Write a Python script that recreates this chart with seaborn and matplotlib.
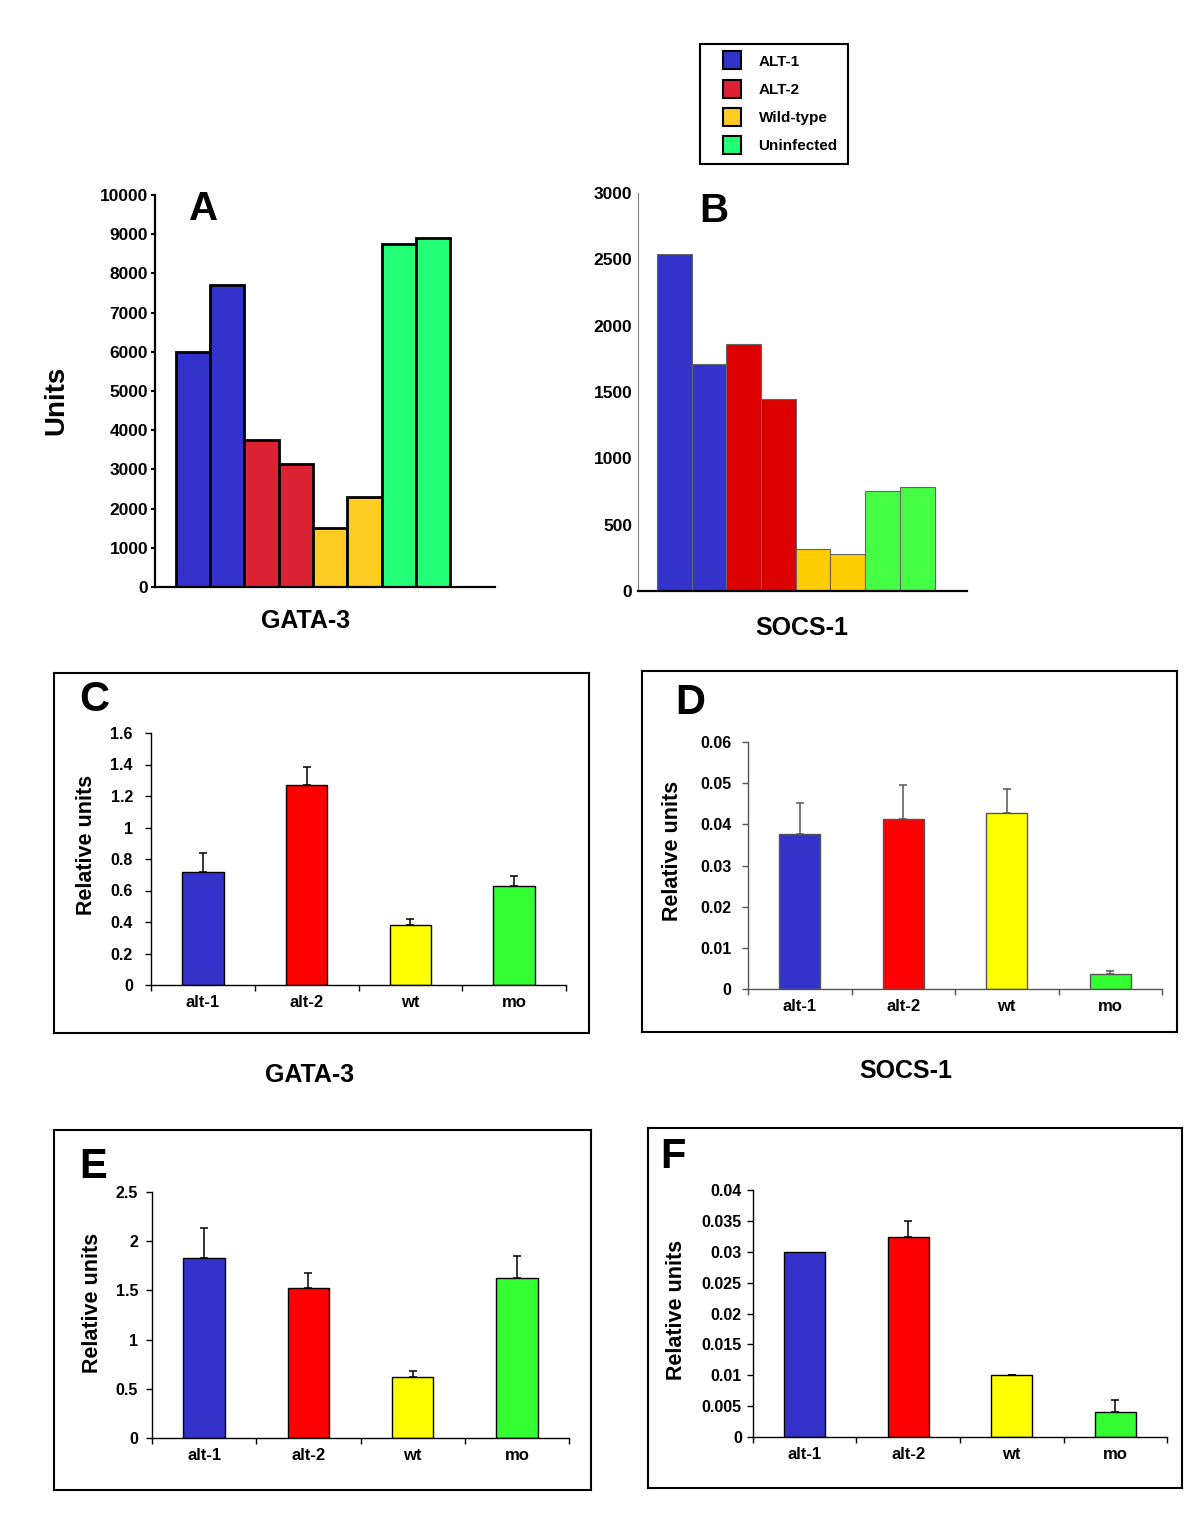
import numpy as np
import pandas as pd
import matplotlib
matplotlib.use("Agg")
import matplotlib.pyplot as plt
import seaborn as sns
from matplotlib.lines import Line2D

W, H = 1200, 1528

# panels A/B: two samples per group
groups = ["ALT-1", "ALT-2", "Wild-type", "Uninfected"]
samples = ["s1", "s2", "s3", "s4", "s5", "s6", "s7", "s8"]
sample_group = ["ALT-1", "ALT-1", "ALT-2", "ALT-2",
                "Wild-type", "Wild-type", "Uninfected", "Uninfected"]
gata3_units = [6000, 7700, 3750, 3130, 1500, 2300, 8750, 8900]
socs1_units = [2540, 1710, 1860, 1450, 320, 276, 756, 781]

# panels C-F: relative units, mean and upper error
conditions = ["alt-1", "alt-2", "wt", "mo"]
c_mean = [0.72, 1.27, 0.38, 0.63]
c_err = [0.117, 0.115, 0.036, 0.062]
d_mean = [0.0376, 0.0413, 0.0427, 0.0036]
d_err = [0.0075, 0.0082, 0.006, 0.0008]
e_mean = [1.83, 1.52, 0.62, 1.63]
e_err = [0.30, 0.16, 0.064, 0.22]
f_mean = [0.0300, 0.0324, 0.0100, 0.0040]
f_err = [0.0, 0.0026, 0.0001, 0.002]

c_ticks = [0, 0.2, 0.4, 0.6, 0.8, 1, 1.2, 1.4, 1.6]
d_ticks = [0, 0.01, 0.02, 0.03, 0.04, 0.05, 0.06]
e_ticks = [0, 0.5, 1, 1.5, 2, 2.5]
f_ticks = [0, 0.005, 0.01, 0.015, 0.02, 0.025, 0.03, 0.035, 0.04]

pal_a = dict(zip(groups, ["#3333CC", "#DD2233", "#FFCC22", "#22FF77"]))
pal_b = dict(zip(groups, ["#3333CC", "#DD0000", "#FFCC00", "#44FF44"]))
pal_rel = dict(zip(conditions, ["#3333CC", "#FF0000", "#FFFF00", "#33FF33"]))

sns.set_theme(style="white")
plt.rcParams['font.family'] = ['Liberation Sans', 'DejaVu Sans']
plt.rcParams['font.weight'] = 'bold'
plt.rcParams['axes.labelweight'] = 'bold'
for k in ['text.color', 'axes.labelcolor', 'xtick.color', 'ytick.color']:
    plt.rcParams[k] = 'black'

fig = plt.figure(figsize=(W / 100, H / 100), dpi=100)
fig.patch.set_facecolor("white")


def rect(x0, y0, x1, y1):
    # pixel box -> figure fraction [left, bottom, width, height]
    return [x0 / W, 1 - y1 / H, (x1 - x0) / W, (y1 - y0) / H]


def ftext(x, y, s, size, **kw):
    fig.text(x / W, 1 - y / H, s, fontsize=size, fontweight='bold',
             ha='center', va='center', color='black', **kw)


# ---------- A: GATA-3 ----------
df_a = pd.DataFrame({"sample": samples, "group": sample_group, "units": gata3_units})
ax_a = fig.add_axes(rect(155, 195, 495, 587))
sns.barplot(data=df_a, x="sample", y="units", hue="group", palette=pal_a,
            dodge=False, width=1.0, saturation=1, edgecolor="black",
            linewidth=2, legend=False, ax=ax_a)
ax_a.set_xlim(-1.11, 8.81)
ax_a.set_ylim(0, 10000)
ax_a.set_yticks(range(0, 10001, 1000))
ax_a.set_xticks([])
ax_a.set_xlabel("")
ax_a.set_ylabel("")
ax_a.spines[['top', 'right']].set_visible(False)
for s in ['left', 'bottom']:
    ax_a.spines[s].set_linewidth(1.6)
    ax_a.spines[s].set_color('black')
ax_a.tick_params(axis='y', direction='out', length=3, width=1.5, pad=2,
                 labelsize=12.5, left=True, color='black')
ax_a.patch.set_alpha(0)
ftext(204, 209, "A", 29)
ftext(56, 400, "Units", 20, rotation=90)
ftext(306, 621, "GATA-3", 18)

# ---------- B: SOCS-1 ----------
df_b = pd.DataFrame({"sample": samples, "group": sample_group, "units": socs1_units})
ax_b = fig.add_axes(rect(638, 193, 967, 591))
sns.barplot(data=df_b, x="sample", y="units", hue="group", palette=pal_b,
            dodge=False, width=1.0, saturation=1, edgecolor="#666666",
            linewidth=0.8, legend=False, ax=ax_b)
ax_b.set_xlim(-1.04, 8.43)
ax_b.set_ylim(0, 3000)
ax_b.set_yticks(range(0, 3001, 500))
ax_b.set_xticks([])
ax_b.set_xlabel("")
ax_b.set_ylabel("")
ax_b.spines[['top', 'right']].set_visible(False)
ax_b.spines['left'].set_linewidth(0.8)
ax_b.spines['left'].set_color('#808080')
ax_b.spines['bottom'].set_linewidth(1.6)
ax_b.spines['bottom'].set_color('black')
ax_b.tick_params(axis='y', length=0, pad=4, labelsize=12.5)
ax_b.patch.set_alpha(0)
ftext(714, 211, "B", 29)
ftext(802, 628, "SOCS-1", 18)

# ---------- legend ----------
handles = [Line2D([], [], marker='s', linestyle='none', markersize=12.5,
                  markerfacecolor=pal_a[g], markeredgecolor='black',
                  markeredgewidth=1.5) for g in groups]
leg = fig.legend(handles, groups, loc='upper left',
                 bbox_to_anchor=(700 / W, 1 - 44 / H), frameon=True,
                 fancybox=False, edgecolor='black', fontsize=11,
                 handlelength=2.8, handletextpad=0.33, borderpad=0.7,
                 labelspacing=0.93, borderaxespad=0, framealpha=1)
leg.get_frame().set_linewidth(1.5)


# ---------- C-F ----------
def rel_panel(frame_box, ax_box, mean, err, ticks, letter, letter_xy,
              ylab_xy, line_col, ypad):
    fr = fig.add_axes(rect(*frame_box))
    fr.set_xticks([])
    fr.set_yticks([])
    for s in fr.spines.values():
        s.set_linewidth(1.5)
        s.set_color('black')

    ax = fig.add_axes(rect(*ax_box))
    ax.patch.set_alpha(0)
    df = pd.DataFrame({"condition": conditions, "value": mean})
    sns.barplot(data=df, x="condition", y="value", hue="condition",
                palette=pal_rel, width=0.4, saturation=1, edgecolor=line_col,
                linewidth=1, legend=False, ax=ax)
    pos = [i for i, e in enumerate(err) if e > 0]
    ax.errorbar(pos, [mean[i] for i in pos],
                yerr=[np.zeros(len(pos)), [err[i] for i in pos]],
                fmt='none', ecolor=line_col, elinewidth=1.1, capsize=3,
                capthick=1.1, zorder=5)
    ax.set_xlim(-0.5, 3.5)
    ax.set_ylim(ticks[0], ticks[-1])
    ax.set_yticks(ticks)
    ax.set_yticklabels(['{:g}'.format(t) for t in ticks])
    ax.set_xticks(range(len(conditions)))
    ax.set_xticks(np.arange(-0.5, len(conditions), 1.0), minor=True)
    ax.set_xlabel("")
    ax.set_ylabel("")
    ax.spines[['top', 'right']].set_visible(False)
    for s in ['left', 'bottom']:
        ax.spines[s].set_linewidth(1)
        ax.spines[s].set_color(line_col)
    ax.tick_params(axis='y', direction='out', length=4, width=1, pad=ypad,
                   labelsize=11.5, left=True, color=line_col)
    ax.tick_params(axis='x', which='major', length=0, pad=7, labelsize=12)
    ax.tick_params(axis='x', which='minor', direction='out', length=4,
                   width=1, bottom=True, color=line_col)
    ftext(letter_xy[0], letter_xy[1], letter, 30)
    ftext(ylab_xy[0], ylab_xy[1], "Relative units", 15.5, rotation=90)
    return ax


rel_panel((54, 673, 589, 1033), (151, 733, 566, 985), c_mean, c_err, c_ticks,
          "C", (94, 700), (86, 845), "black", 9)
rel_panel((642, 671, 1177, 1032), (748, 742, 1162, 989), d_mean, d_err, d_ticks,
          "D", (690, 703), (672, 851), "#555555", 8)
rel_panel((54, 1130, 591, 1490), (152, 1192, 569, 1438), e_mean, e_err, e_ticks,
          "E", (93, 1167), (92, 1303), "black", 6)
rel_panel((648, 1128, 1182, 1488), (753, 1190, 1167, 1437), f_mean, f_err, f_ticks,
          "F", (673, 1157), (677, 1310), "black", 4)

ftext(310, 1075, "GATA-3", 18)
ftext(906, 1071, "SOCS-1", 18)

fig.savefig("out.png", dpi=100, facecolor="white")
